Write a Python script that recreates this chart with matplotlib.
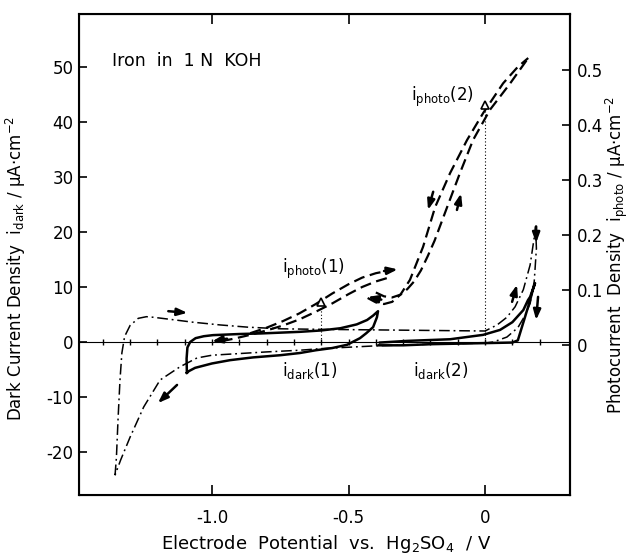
import numpy as np
import matplotlib
matplotlib.use("Agg")
import matplotlib.pyplot as plt

plt.rcParams['font.family'] = ['DejaVu Sans']
plt.rcParams['axes.unicode_minus'] = False
plt.rcParams['mathtext.default'] = 'regular'

# --- data (potential in V vs Hg2SO4, current in uA/cm2) ---
# full-range dark scan (dash-dot), forward then back
scan_v = [-1.355, -1.35, -1.344, -1.337, -1.33, -1.32, -1.30, -1.27, -1.24, -1.216,
          -1.15, -1.07, -0.97, -0.87, -0.75, -0.6, -0.4, -0.2, 0.0, 0.044, 0.08,
          0.11, 0.14, 0.165, 0.18, 0.185,
          0.188, 0.18, 0.165, 0.146, 0.12, 0.08, 0.03, 0.0, -0.2, -0.4, -0.6,
          -0.68, -0.8, -0.9, -1.0, -1.055, -1.117, -1.19, -1.25, -1.30, -1.335, -1.355]
scan_i = [-24.2, -21.0, -14.0, -7.0, -2.0, 1.0, 3.0, 4.3, 4.6, 4.5,
          4.1, 3.6, 3.1, 2.7, 2.4, 2.3, 2.2, 2.1, 2.0, 3.1, 4.5,
          6.4, 9.5, 14.0, 19.0, 21.0,
          17.0, 11.0, 7.0, 4.8, 2.6, 0.9, 0.0, -0.2, -0.4, -0.7, -1.2,
          -1.5, -1.8, -2.1, -2.4, -2.9, -4.5, -6.9, -11.8, -17.3, -21.5, -24.2]

# i_dark(1) loop
dark1_v = [-1.092, -1.093, -1.09, -1.08, -1.06, -1.03, -0.996, -0.9, -0.824, -0.75,
           -0.678, -0.6, -0.53, -0.47, -0.432, -0.41, -0.392,
           -0.396, -0.41, -0.435, -0.458, -0.505, -0.56, -0.62, -0.678, -0.75,
           -0.85, -0.934, -1.0, -1.062, -1.085, -1.092]
dark1_i = [-5.6, -3.0, -1.0, 0.0, 0.7, 1.05, 1.25, 1.45, 1.55, 1.7,
           1.85, 2.1, 2.5, 3.2, 4.0, 4.8, 5.6,
           4.5, 2.7, 1.6, 0.7, -0.5, -1.1, -1.5, -2.0, -2.4,
           -2.8, -3.3, -3.9, -4.7, -5.3, -5.6]

# i_dark(2) loop
dark2_v = [-0.39, -0.3, -0.2, -0.1, 0.0, 0.1, 0.12, 0.128, 0.146, 0.165, 0.175, 0.183,
           0.165, 0.157, 0.14, 0.1, 0.055, -0.007, -0.128, -0.286, -0.385]
dark2_i = [-0.6, -0.6, -0.4, -0.3, -0.2, -0.1, 0.3, 1.6, 4.5, 7.6, 9.5, 10.7,
           8.2, 7.6, 5.8, 3.6, 2.2, 1.3, 0.5, 0.2, -0.1]

# i_photo(1), photocurrent x100 on left scale
photo1_fwd_v = [-0.86, -0.80, -0.74, -0.68, -0.62, -0.56, -0.50, -0.45, -0.40, -0.35]
photo1_fwd_i = [1.6, 2.6, 3.8, 5.2, 6.9, 8.8, 10.5, 11.7, 12.5, 13.0]
photo1_rev_v = [-0.36, -0.40, -0.45, -0.50, -0.56, -0.62, -0.68, -0.74, -0.80, -0.86, -0.92, -0.97]
photo1_rev_i = [11.6, 11.0, 10.0, 8.7, 7.0, 5.5, 4.1, 3.0, 2.1, 1.3, 0.6, 0.1]

# i_photo(2)
photo2_out_v = [-0.43, -0.40, -0.37, -0.34, -0.31, -0.275, -0.227, -0.183, -0.128,
                -0.066, -0.007, 0.066, 0.12, 0.158]
photo2_out_i = [8.0, 7.2, 6.9, 7.3, 8.6, 11.3, 17.3, 24.5, 30.7, 36.7, 41.6, 47.0, 50.0, 51.6]
photo2_in_v = [-0.40, -0.37, -0.34, -0.31, -0.285, -0.26, -0.235, -0.21, -0.185, -0.139,
               -0.092, -0.044, 0.018, 0.092, 0.158]
photo2_in_i = [9.0, 8.3, 8.1, 8.6, 9.6, 11.0, 13.0, 15.6, 18.4, 24.5,
               30.7, 36.7, 42.2, 47.0, 51.6]

# reference marks
mark_v = [-0.6, 0.0]
mark_i = [7.3, 43.0]
grid_v = [-1.4, -1.3, -1.2, -1.1, -1.0, -0.9, -0.8, -0.7, -0.6, -0.5, -0.4,
          -0.3, -0.2, -0.1, 0.0, 0.1, 0.2]

# scan direction arrows: (start v, start i, end v, end i)
arrows = [
    (-1.16, 5.6, -1.09, 5.3),
    (-1.128, -7.8, -1.198, -11.1),
    (-0.37, 12.9, -0.32, 13.2),
    (-0.945, 0.6, -1.0, 0.1),
    (-0.38, 7.7, -0.43, 8.2),
    (-0.19, 27.3, -0.209, 24.0),
    (-0.103, 24.0, -0.088, 27.0),
    (0.099, 7.3, 0.117, 10.4),
    (0.194, 8.2, 0.187, 4.0),
    (0.187, 21.0, 0.187, 18.0),
]

fig = plt.figure(figsize=(6.3, 5.56), dpi=100)
ax = fig.add_axes([79/630, 1-495/556, 491/630, 481/556])

ax.plot([-1.49, 0.31], [0, 0], color='black', lw=0.8)
ax.plot(grid_v, np.zeros(len(grid_v)), ls='none', marker='|', ms=5, mew=1, color='black')

ax.plot(scan_v, scan_i, color='black', lw=1.1, ls=(0, (7, 2.5, 1.2, 2.5)))
ax.plot(dark1_v, dark1_i, color='black', lw=1.8)
ax.plot(dark2_v, dark2_i, color='black', lw=1.8)
for v, i in [(photo1_fwd_v, photo1_fwd_i), (photo1_rev_v, photo1_rev_i),
             (photo2_out_v, photo2_out_i), (photo2_in_v, photo2_in_i)]:
    ax.plot(v, i, color='black', lw=1.6, ls=(0, (5, 2.5)))

for v, i in zip(mark_v, mark_i):
    ax.plot([v, v], [0, i], color='black', lw=0.8, ls=(0, (1, 2)))
ax.plot(mark_v, mark_i, ls='none', marker='^', ms=6, mfc='white', mec='black', mew=1.2)

for x0, y0, x1, y1 in arrows:
    ax.annotate('', xy=(x1, y1), xytext=(x0, y0),
                arrowprops=dict(arrowstyle='-|>,head_length=0.6,head_width=0.22',
                                color='black', lw=1.8, shrinkA=0, shrinkB=0))

ax.text(-1.365, 51, 'Iron  in  1 N  KOH', fontsize=12.5, va='center', ha='left')
ax.text(-0.27, 44.5, r'i$_{photo}$(2)', fontsize=12, va='center', ha='left')
ax.text(-0.745, 13.2, r'i$_{photo}$(1)', fontsize=12, va='center', ha='left')
ax.text(-0.745, -5.2, r'i$_{dark}$(1)', fontsize=12, va='center', ha='left')
ax.text(-0.265, -5.2, r'i$_{dark}$(2)', fontsize=12, va='center', ha='left')

ax.set_xlim(-1.487, 0.311)
ax.set_ylim(-27.8, 59.6)
ax.set_xticks([-1.0, -0.5, 0.0])
ax.set_xticklabels(['-1.0', '-0.5', '0'])
ax.set_yticks([50, 40, 30, 20, 10, 0, -10, -20])
ax.tick_params(axis='x', direction='in', length=7, width=1.2, labelsize=12, pad=10,
               top=True)
ax.tick_params(axis='y', direction='in', length=6, width=1.2, labelsize=12, pad=4)
for s in ax.spines.values():
    s.set_linewidth(1.5)

ax2 = ax.twinx()
ax2.set_ylim(-0.273, 0.602)
ax2.set_yticks([0, 0.1, 0.2, 0.3, 0.4, 0.5])
ax2.set_yticklabels(['0', '0.1', '0.2', '0.3', '0.4', '0.5'])
ax2.tick_params(axis='y', direction='in', length=6, width=1.2, labelsize=12, pad=5)
ax2.spines['right'].set_linewidth(1.5)

ax.set_xlabel(r'Electrode  Potential  vs.  Hg$_2$SO$_4$  / V', fontsize=13)
ax.xaxis.set_label_coords(0.503, -0.079)
ax.set_ylabel(r'Dark Current Density  i$_{dark}$ / µA·cm$^{-2}$', fontsize=12)
ax.yaxis.set_label_coords(-0.104, 0.472)
ax2.set_ylabel(r'Photocurrent  Density  i$_{photo}$ / µA·cm$^{-2}$', fontsize=12,
               rotation=90)
ax2.yaxis.set_label_coords(1.068, 0.5)

fig.savefig('out.png', dpi=100)
